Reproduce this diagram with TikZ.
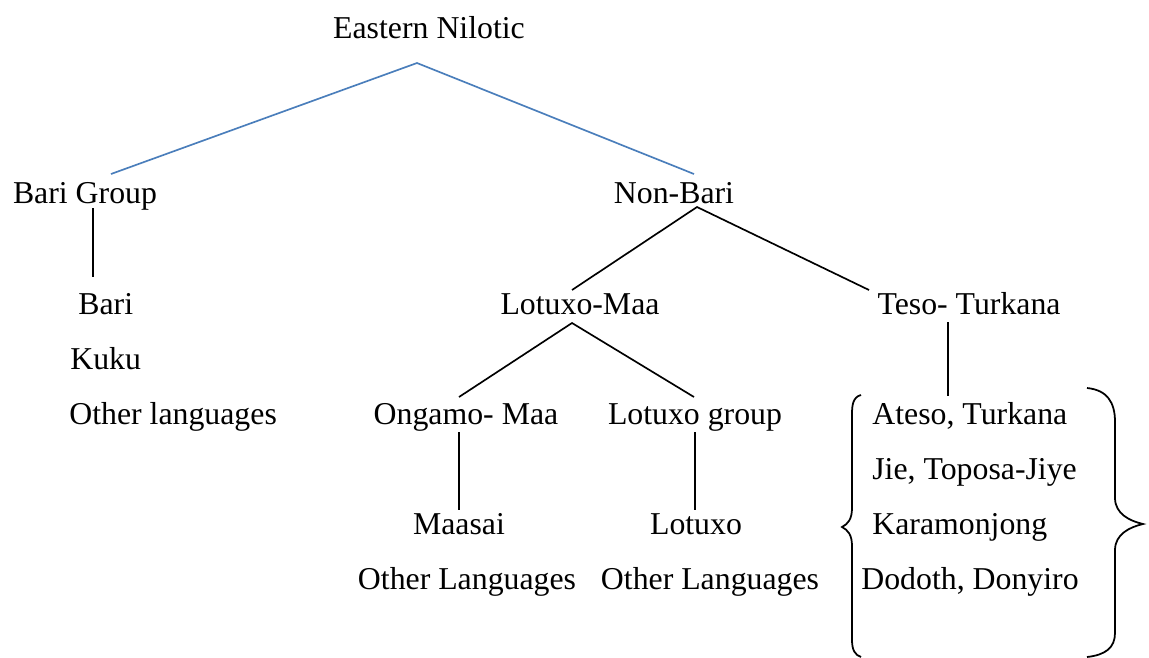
\documentclass[tikz,border=0pt]{standalone}
\usepackage{fontspec}
\setmainfont{Liberation Serif}
\definecolor{wordblue}{RGB}{74,126,187}
\tikzset{
  lang/.style = {
    inner sep = 0pt,
    font = \fontsize{18.1}{22}\selectfont},
  branch/.style = {draw = black, line width = 0.95pt},
  top branch/.style = {draw = wordblue, line width = 0.95pt},
  curly/.style = {draw = black, line width = 1pt}
}

\begin{document}
\begin{tikzpicture}[x = 0.02cm, y = -0.02cm, nodes = {lang}]
  \useasboundingbox (0,0) rectangle (1149,657);
  % tree labels
  \node[anchor = base] (nilotic) at (429,38) {Eastern Nilotic};
  \node[anchor = base] (bari group) at (85,203) {Bari Group};
  \node[anchor = base] (nonbari) at (674,203) {Non-Bari};
  \node[anchor = base west] (bari) at (78,314) {Bari};
  \node[anchor = base west] (kuku) at (70,369) {Kuku};
  \node[anchor = base west] (bari other) at (69,424) {Other languages};
  \node[anchor = base] (lotuxomaa) at (580,314) {Lotuxo-Maa};
  \node[anchor = base] (teso) at (969,314) {Teso- Turkana};
  \node[anchor = base] (ongamo) at (466,424) {Ongamo- Maa};
  \node[anchor = base] (lotuxo group) at (695,424) {Lotuxo group};
  \node[anchor = base] (maasai) at (459,534) {Maasai};
  \node[anchor = base] (lotuxo) at (696,534) {Lotuxo};
  \node[anchor = base] (ongamo other) at (467,589) {Other Languages};
  \node[anchor = base] (lotuxo other) at (710,589) {Other Languages};
  \node[anchor = base west] (ateso) at (872,424) {Ateso, Turkana};
  \node[anchor = base west] (jie) at (872,479) {Jie, Toposa-Jiye};
  \node[anchor = base west] (karamonjong) at (872,534) {Karamonjong};
  \node[anchor = base west] (dodoth) at (861,589) {Dodoth, Donyiro};
  % line ends
  \coordinate (nilotic top) at (417,63);
  \coordinate (bari group end) at (111,174);
  \coordinate (nonbari end) at (694,174);
  \coordinate (bari group foot) at (93,208);
  \coordinate (bari end) at (93,277);
  \coordinate (nonbari foot) at (697,207);
  \coordinate (lotuxomaa end) at (572,290);
  \coordinate (teso end) at (869,290);
  \coordinate (lotuxomaa foot) at (572,323);
  \coordinate (ongamo end) at (459,397);
  \coordinate (lotuxo group end) at (694,397);
  \coordinate (ongamo foot) at (459,432);
  \coordinate (maasai end) at (459,510);
  \coordinate (lotuxo group foot) at (695,432);
  \coordinate (lotuxo end) at (695,510);
  \coordinate (teso foot) at (948,322);
  \coordinate (ateso end) at (948,396);
  % branches
  \draw[top branch] (bari group end) -- (nilotic top) -- (nonbari end);
  \draw[branch] (bari group foot) -- (bari end);
  \draw[branch] (lotuxomaa end) -- (nonbari foot) -- (teso end);
  \draw[branch] (ongamo end) -- (lotuxomaa foot) -- (lotuxo group end);
  \draw[branch] (ongamo foot) -- (maasai end);
  \draw[branch] (lotuxo group foot) -- (lotuxo end);
  \draw[branch] (teso foot) -- (ateso end);
  % braces round the Teso-Turkana languages
  \draw[curly] (861,395) .. controls (853,397) and (852,405) .. (852,414) -- (852,508)
    .. controls (852,519) and (848,524) .. (842,527) .. controls (848,530) and (852,535) .. (852,546)
    -- (852,640) .. controls (852,650) and (855,655) .. (861,657);
  \draw[curly] (1087,388) .. controls (1107,390) and (1115,402) .. (1115,422) -- (1115,498)
    .. controls (1115,514) and (1130,521) .. (1143,524) .. controls (1130,527) and (1115,534) .. (1115,550)
    -- (1115,633) .. controls (1115,648) and (1105,655) .. (1087,657);
\end{tikzpicture}
\end{document}
